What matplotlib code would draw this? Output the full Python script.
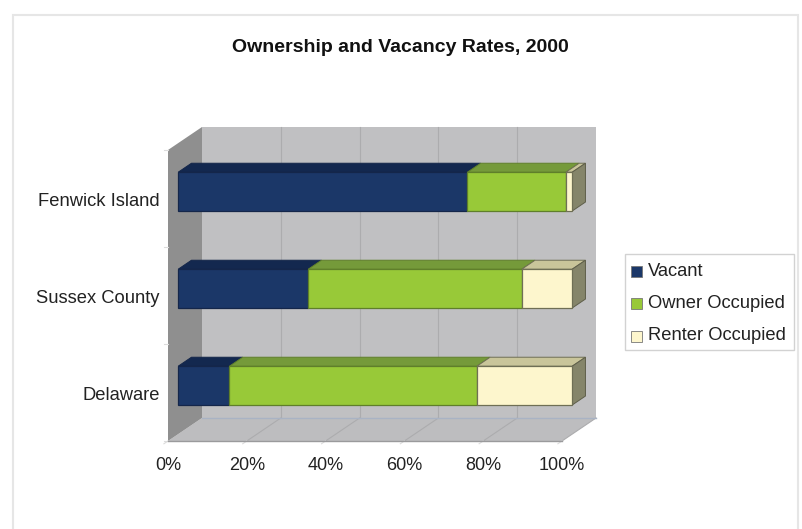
import matplotlib
matplotlib.use('Agg')
import matplotlib.pyplot as plt
from matplotlib.patches import Polygon, Rectangle
from matplotlib.transforms import Affine2D

plt.rcParams['font.family'] = ['Liberation Sans', 'DejaVu Sans']

categories = ['Delaware', 'Sussex County', 'Fenwick Island']
series = ['Vacant', 'Owner Occupied', 'Renter Occupied']
vacant = [13, 33, 73.4]
owner = [62.8, 54.2, 25]
renter = [24.2, 12.8, 1.6]
xticks = [0, 20, 40, 60, 80, 100]

front_colors = ['#1b3768', '#98c938', '#fdf6cd']
top_colors = ['#13284f', '#759a3a', '#c9c59a']
side_color = '#85856a'
edge_colors = ['#14264a', '#5f7f2a', '#6f6f55']

W, H = 802, 529
fig = plt.figure(figsize=(W / 100, H / 100), dpi=100)

# outer frame, its bottom edge runs off the image
fig.add_artist(Rectangle((13 / W, 1 - 535 / H), 785 / W, 520 / H, transform=fig.transFigure,
                         fc='white', ec='#e6e6e6', lw=1.5, zorder=-1))

# front plane of the chart box, in pixels
left, right, top, bottom = 168, 562, 150, 441
ax = fig.add_axes([left / W, 1 - bottom / H, (right - left) / W, (bottom - top) / H])
ax.set_xlim(0, 100)
ax.set_ylim(-0.5, 2.5)
ax.axis('off')

DX, DY = 34, 23


def depth(d):
    return ax.transData + Affine2D().translate(DX * d, DY * d)


def poly(pts, d_list, color, ec='none', lw=0, z=1):
    # pts in data coords, each with its own depth
    disp = [depth(d).transform(p) for p, d in zip(pts, d_list)]
    ax.add_patch(Polygon(disp, closed=True, transform=None, fc=color, ec=ec, lw=lw,
                         zorder=z, clip_on=False))


def seg(p0, d0, p1, d1, color, lw=0.8, z=2):
    a = depth(d0).transform(p0)
    b = depth(d1).transform(p1)
    ax.plot([a[0], b[0]], [a[1], b[1]], color=color, lw=lw, transform=None, clip_on=False, zorder=z)


# walls
poly([(0, -0.5), (100, -0.5), (100, -0.5), (0, -0.5)], [0, 0, 1, 1], '#bdbdbf')
poly([(0, -0.5), (100, -0.5), (100, 2.5), (0, 2.5)], [1, 1, 1, 1], '#c0c0c2')
poly([(0, -0.5), (0, -0.5), (0, 2.5), (0, 2.5)], [0, 1, 1, 0], '#8f8f8f')

# grid lines on floor and back wall, short ticks at the front
for t in xticks[1:-1]:
    seg((t, -0.5), 1, (t, 2.5), 1, '#acacae')
for t in xticks[1:]:
    seg((t, -0.5), 0, (t, -0.5), 1, '#acacae')
for t in xticks:
    seg((t, -0.5), 0, (t, -0.5), -0.12, '#dcdcdc')
for c in [-0.5, 0.5, 1.5, 2.5]:
    a = depth(0).transform((0, c))
    ax.plot([a[0] - 4, a[0]], [a[1], a[1]], color='#dcdcdc', lw=0.8, transform=None, clip_on=False)
seg((0, -0.5), 0, (100, -0.5), 0, '#9a9a9c', lw=1)
seg((0, -0.5), 1, (100, -0.5), 1, '#a9b3c4', lw=1)

# stacked bars, front face sits partway into the depth
D0, D1 = 0.3, 0.69
HALF = 0.2
for i, cat in enumerate(categories):
    start = 0
    for vals, fc, tc, ec in zip([vacant, owner, renter], front_colors, top_colors, edge_colors):
        v = vals[i]
        poly([(start, i + HALF), (start + v, i + HALF), (start + v, i + HALF), (start, i + HALF)],
             [D0, D0, D1, D1], tc, ec=ec, lw=0.7, z=3)
        poly([(start, i - HALF), (start + v, i - HALF), (start + v, i + HALF), (start, i + HALF)],
             [D0, D0, D0, D0], fc, ec=ec, lw=0.9, z=4)
        start += v
    poly([(start, i - HALF), (start, i - HALF), (start, i + HALF), (start, i + HALF)],
         [D0, D1, D1, D0], side_color, ec='#5f5f4a', lw=0.7, z=3)

# tick labels
for t in xticks:
    ax.text(t, -0.5, f'{t}%', transform=ax.transData + Affine2D().translate(0, -24),
            ha='center', va='center', fontsize=13, color='#222222', clip_on=False)
for i, cat in enumerate(categories):
    ax.text(0, i, cat, transform=ax.transData + Affine2D().translate(-8, -3),
            ha='right', va='center', fontsize=13.2, color='#222222', clip_on=False)

fig.text(400 / W, 1 - 48 / H, 'Ownership and Vacancy Rates, 2000', ha='center', va='center',
         fontsize=14, fontweight='bold', color='#111111')

# legend
fig.add_artist(Rectangle((625 / W, 1 - 350 / H), 169 / W, 96 / H, transform=fig.transFigure,
                         fc='white', ec='#d2d2d2', lw=1, zorder=5))
for name, c, y in zip(series, front_colors, [271, 303, 336]):
    fig.add_artist(Rectangle((631 / W, 1 - (y + 5.5) / H), 11 / W, 11 / H, transform=fig.transFigure,
                             fc=c, ec='#777777', lw=0.6, zorder=6))
    fig.text(648 / W, 1 - y / H, name, ha='left', va='center', fontsize=13.2, color='#222222', zorder=6)

fig.savefig('out.png', dpi=100)
